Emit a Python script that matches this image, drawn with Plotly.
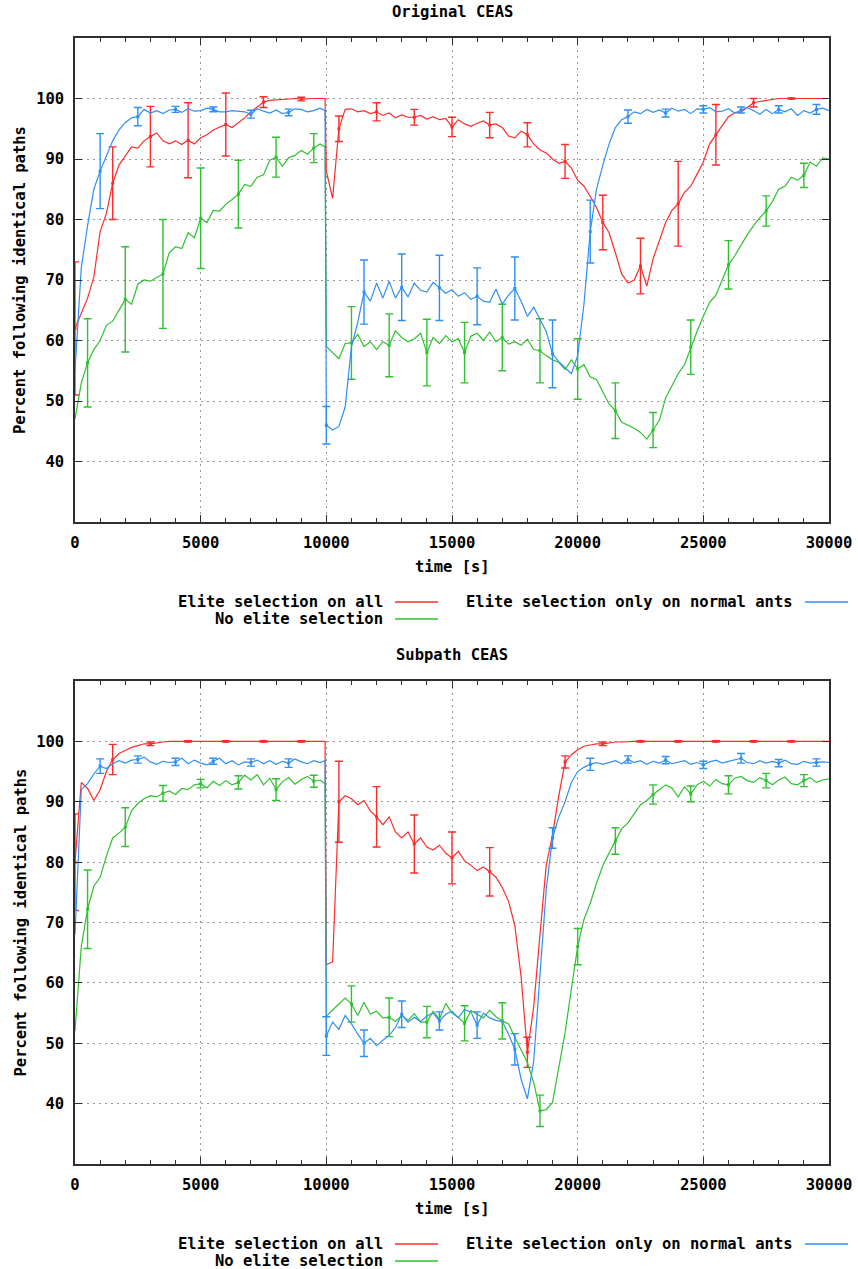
import plotly.graph_objects as go

W, H = 858, 1269

# Sample times [s]: 250 s steps, with the scenario change at 10000 s
T = list(range(0, 9751, 250)) + [9950] + list(range(10000, 30001, 250))

# ---------------- Original CEAS ----------------
orig_all = [
    62, 64.5, 67, 70.5,
    78, 81, 86, 89,
    90.5, 92, 91.8, 93,
    93.7, 94.3, 93, 92.5,
    93, 92.4, 93.1, 92.5,
    93.5, 94, 94.8, 95.3,
    95.7, 95.2, 96, 96.8,
    97.8, 98.6, 99.4, 99.7,
    99.8, 99.9, 99.9, 100,
    99.9, 100, 100, 100,
    100,
    88, 83.5, 95, 98.2,
    98.3, 97.8, 98, 97.5,
    97.8, 97.2, 97.6, 96.8,
    97.3, 96.9, 96.9, 97.2,
    96.6, 97, 96.5, 96.7,
    95.3, 96.5, 95.8, 95.4,
    95.9, 96.3, 95.6, 95.8,
    95.2, 93.8, 93.5, 94.6,
    94, 92.5, 91.5, 91,
    90, 89.3, 89.6, 88.5,
    86.5, 85.5, 83.8, 82,
    79.5, 77.8, 74.5, 71,
    69.5, 70, 72.3, 69,
    73.5, 76.5, 79.5, 81.5,
    82.6, 84.5, 85.5, 87.5,
    89.5, 92.5, 94, 95.5,
    97, 97.6, 97.8, 98.5,
    99.3, 99.5, 99.7, 99.9,
    100, 100, 100, 100,
    100, 100, 100, 100,
    100,
]
orig_none = [
    47, 53, 56.3, 58.5,
    60, 62.5, 63.2, 65,
    66.8, 66, 69.3, 70,
    69.8, 70.4, 71, 74.5,
    75.5, 75.2, 77.8, 77,
    80.2, 79.5, 81.5, 81.4,
    82.5, 83.3, 84.2, 85.8,
    85.5, 87, 87.4, 89.8,
    90.3, 88.8, 90.2, 90.6,
    91.4, 90.8, 91.8, 92.5,
    92,
    59, 58, 57, 59.5,
    59.6, 61, 59, 59.8,
    58.5, 59.8, 59.2, 61.6,
    60.5, 59.8, 60.3, 61.2,
    58, 60.5, 59.5, 60.8,
    59.8, 60.3, 58, 60.7,
    61.2, 60, 61.4, 59.8,
    60.5, 59.4, 59.8, 59.2,
    60.2, 58.5, 58.3, 57.5,
    56.8, 56.4, 55.2, 56.8,
    55.3, 56, 54, 53.5,
    51.5, 49.5, 48.4, 46.5,
    46, 45.5, 44.8, 43.7,
    45.2, 46.8, 50.5, 52.5,
    54.5, 56, 58.9, 61.5,
    64, 66.3, 67.5, 70,
    72.5, 74, 75.8, 77.5,
    79, 80.3, 81.4, 83,
    85, 85.5, 87, 86.5,
    87.3, 89.5, 88.8, 90.2,
    90,
]
orig_normal = [
    55, 72, 79, 85,
    88, 90.5, 93, 94.8,
    96, 96.8, 97, 98.2,
    97.6, 98, 97.5, 98.1,
    98.2, 97.7, 98.3, 97.9,
    98, 98.4, 98.2, 97.8,
    97.8, 98, 97.9, 97.8,
    97.4, 98.3, 97.9, 97.6,
    98.1, 97.5, 97.7, 98.3,
    98.2, 97.8, 98, 98.4,
    98,
    46, 45.2, 45.8, 49,
    59, 63, 68, 66.5,
    69.5, 67, 69.8, 67,
    68.8, 67.2, 69.5, 68.3,
    68, 69.6, 68.7, 67.8,
    68.4, 67.3, 67.9, 66.8,
    67.3, 66.5, 66.3, 68.5,
    66, 67.5, 68.6, 66.5,
    64, 65.5, 63.5, 61.5,
    57.8, 56.5, 55.5, 54.5,
    57.5, 66, 78, 85,
    89, 92.5, 95.2, 96.5,
    97, 97.8, 97.5, 98.2,
    97.7, 98.1, 97.6, 98.4,
    97.9, 98.2, 97.5, 98.3,
    98.2, 98.5, 97.8, 97.9,
    98.3, 97.6, 98.1, 98.5,
    98, 97.4, 98.2, 97.5,
    98.2, 97.8, 98.3, 97.2,
    98, 97.6, 98.2, 98.4,
    98,
]

# ---------------- Subpath CEAS ----------------
sub_all = [
    80, 93.2, 92.2, 90.2,
    92, 95, 97, 98,
    98.5, 99, 99.3, 99.6,
    99.6, 99.8, 99.9, 100,
    100, 100, 100, 100,
    100, 100, 100, 100,
    100, 100, 100, 100,
    100, 100, 100, 100,
    100, 100, 100, 100,
    100, 100, 100, 100,
    100,
    63, 63.5, 90, 91,
    90.5, 89.5, 90.2, 88.5,
    87.5, 86.2, 87.5, 85,
    84, 85, 83, 84,
    82.5, 82, 82.8, 81.5,
    80.7, 81.8, 80.2, 79.5,
    78.6, 79.2, 78.4, 77.5,
    75.8, 73.5, 69.5, 61,
    48.5, 56, 68, 79.5,
    84.5, 91, 96.6, 97.8,
    98.6, 99.2, 99.4, 99.6,
    99.6, 99.8, 99.9, 99.9,
    100, 100, 100, 100,
    100, 100, 100, 100,
    100, 100, 100, 100,
    100, 100, 100, 100,
    100, 100, 100, 100,
    100, 100, 100, 100,
    100, 100, 100, 100,
    100, 100, 100, 100,
    100,
]
sub_none = [
    52, 66, 72.2, 76,
    77.5, 81, 84, 84.8,
    85.8, 88.5, 89.7, 90.5,
    91, 90.8, 91.4, 91.8,
    91.2, 92.2, 92, 92.8,
    93, 92.3, 93.4, 92.7,
    93.5, 92.8, 93.2, 94.4,
    93.6, 94.5, 92.8, 93.9,
    92, 93.3, 94, 92.9,
    93.7, 94.2, 93.4, 93.6,
    93,
    54.5, 55.5, 56.5, 57.5,
    56.5, 54.6, 56.8, 54.8,
    55.3, 54.2, 54.3, 53.6,
    54.6, 53.8, 54.9, 53.5,
    53.5, 55.3, 54, 56.6,
    55, 54.3, 53.3, 55.4,
    54.8, 54.2, 55.5, 54.4,
    53.7, 53.2, 51, 49,
    46.8, 43.5, 38.8, 39,
    40.2, 46, 51.8, 59,
    66, 70.5, 73.2, 76.5,
    79.4, 81.5, 83.5, 85.5,
    86.5, 88, 89.5, 90.2,
    91.2, 92, 92.8, 92.3,
    90.8, 92.5, 91.3, 92.8,
    93.4, 92.6, 93.7, 93,
    92.8, 93.9, 94.2, 93.5,
    93.2, 94, 93.5, 92.8,
    93.6, 94.1, 93, 92.8,
    93.5, 94, 93.2, 93.6,
    93.8,
]
sub_normal = [
    68, 92, 93, 94.6,
    95.9, 95.5, 96.3, 96.8,
    96.4, 96.9, 97, 97.4,
    96.6, 96.2, 96.7, 96.5,
    96.6, 97.2, 96.3, 96.9,
    96.4, 96.1, 96.7, 97.2,
    96.3, 96.8, 96.1, 96.6,
    96.5, 96.9, 96.3, 96.8,
    96.2, 96.7, 96.4, 97.1,
    96.6, 96.3, 96.8, 96.5,
    96.8,
    51.2, 53.5, 52.3, 54.6,
    53.2, 51.5, 50, 50.8,
    49.6, 50.5, 51.3, 52.6,
    54.8, 53.5, 54.3, 53.6,
    54.5, 55, 53.7, 54.8,
    55.3, 54.2, 55.6, 55.2,
    53, 55, 54.2, 53.8,
    53.6, 51.5, 49, 44,
    40.8, 47, 61, 75.5,
    84, 87.5, 90, 93.2,
    95, 95.7, 96.2, 96.5,
    96.2, 96.5, 96.8, 96.3,
    97, 96.5, 96.8, 96.2,
    96.7, 96.4, 96.9, 96.3,
    96.6, 96.8, 96.2, 96.5,
    96.1, 96.6, 96.9, 96.4,
    96.7, 96.9, 97.2, 96.5,
    96.3, 96.8, 96.4, 96.7,
    96.4, 96.9, 96.3, 96.2,
    96.7, 96.4, 96.5, 96.6,
    96.5,
]

# Error bars (half width, in percent) sampled every 1500 s, staggered per series
bars_all_x = [0, 1500, 3000, 4500, 6000, 7500, 9000, 10500, 12000, 13500,
              15000, 16500, 18000, 19500, 21000, 22500, 24000, 25500, 27000, 28500]
bars_none_x = [500, 2000, 3500, 5000, 6500, 8000, 9500, 11000, 12500, 14000,
               15500, 17000, 18500, 20000, 21500, 23000, 24500, 26000, 27500, 29000]
bars_normal_x = [1000, 2500, 4000, 5500, 7000, 8500, 10000, 11500, 13000, 14500,
                 16000, 17500, 19000, 20500, 22000, 23500, 25000, 26500, 28000, 29500]

orig_all_err = [11, 6, 5, 6.2, 5.2, 0.9, 0.3, 2.1, 1.5, 1.3,
                1.6, 2.1, 2, 2.8, 4.5, 4.6, 7, 5, 0.7, 0.1]
orig_none_err = [7.3, 8.7, 9, 8.3, 5.6, 3.3, 2.4, 6, 5.2, 5.5,
                 5, 5.5, 5.3, 5, 4.6, 2.9, 4.5, 4, 2.5, 2]
orig_normal_err = [6.2, 1.5, 0.5, 0.4, 0.65, 0.55, 3.1, 5.3, 5.5, 5.4,
                   4.7, 5.2, 5.6, 5.2, 1.1, 0.65, 0.6, 0.5, 0.6, 0.8]

sub_all_err = [8, 2.5, 0.3, 0.1, 0.1, 0.1, 0.1, 6.7, 5, 4.8,
               4.3, 4, 2.5, 1, 0.3, 0.1, 0.1, 0.1, 0.1, 0.1]
sub_none_err = [6.5, 3.2, 1.3, 0.7, 1.1, 1.8, 1, 3, 3.2, 2.6,
                2.9, 3, 2.6, 3, 2.2, 1.6, 1.3, 1.5, 1.2, 1]
sub_normal_err = [1.2, 0.6, 0.6, 0.5, 0.6, 0.7, 3.2, 2.2, 2.2, 1.5,
                  2.2, 2.6, 1.7, 1, 0.6, 0.6, 0.6, 0.8, 0.6, 0.6]

NAMES = ["Elite selection on all", "No elite selection",
         "Elite selection only on normal ants"]
COLORS = ["#ff2b2b", "#2fc12f", "#2f8ff5"]
TITLES = ["Original CEAS", "Subpath CEAS"]
Y_TICKS = [40, 50, 60, 70, 80, 90, 100]
X_TICKS = [0, 5000, 10000, 15000, 20000, 25000, 30000]

FONT = "DejaVu Sans Mono"
FS = 15.5


def fx(p):
    return p / W


def fy(p):
    return 1 - p / H


# pixel frames of the two plot boxes: (left, right, top, bottom)
boxes = [(75, 829, 38, 522), (75, 829, 681, 1164)]

panels = [
    ([orig_all, orig_none, orig_normal], [orig_all_err, orig_none_err, orig_normal_err]),
    ([sub_all, sub_none, sub_normal], [sub_all_err, sub_none_err, sub_normal_err]),
]
bar_xs = [bars_all_x, bars_none_x, bars_normal_x]

fig = go.Figure()

for k, (series, errs) in enumerate(panels):
    xa = "x" if k == 0 else "x2"
    ya = "y" if k == 0 else "y2"
    for s, (ys, err, bx) in enumerate(zip(series, errs, bar_xs)):
        lookup = dict(zip(T, ys))
        fig.add_trace(go.Scatter(
            x=T, y=ys, mode="lines", xaxis=xa, yaxis=ya,
            line=dict(color=COLORS[s], width=1.2), showlegend=False,
            hoverinfo="skip"))
        fig.add_trace(go.Scatter(
            x=bx, y=[lookup[v] for v in bx], mode="markers", xaxis=xa, yaxis=ya,
            marker=dict(color=COLORS[s], size=3, symbol="square"),
            error_y=dict(type="data", array=err, color=COLORS[s],
                         thickness=1.4, width=4),
            showlegend=False, hoverinfo="skip"))

axis_common = dict(
    showline=True, mirror="ticks", linecolor="#2e2e2e", linewidth=1.5,
    ticks="inside", tickcolor="#2e2e2e", tickwidth=1, ticklen=7,
    showgrid=True, gridcolor="#9a9a9a", gridwidth=1, griddash="2px,4px",
    zeroline=False, automargin=False,
    tickfont=dict(family=FONT, size=FS, color="#000000", weight="bold"),
)

layout = dict(
    width=W, height=H, margin=dict(l=0, r=0, t=0, b=0, autoexpand=False),
    paper_bgcolor="white", plot_bgcolor="white", showlegend=False,
)

for k, (l, r, t, b) in enumerate(boxes):
    xs = "xaxis" if k == 0 else "xaxis2"
    ys = "yaxis" if k == 0 else "yaxis2"
    layout[xs] = dict(
        axis_common, domain=[fx(l), fx(r)], range=[0, 30000],
        anchor="y" if k == 0 else "y2",
        tickvals=X_TICKS, ticktext=[str(v) for v in X_TICKS],
        ticklabelstandoff=6,
        minor=dict(dtick=1000, ticks="inside", ticklen=4, tickcolor="#2e2e2e",
                   showgrid=False),
    )
    layout[ys] = dict(
        axis_common, domain=[fy(b), fy(t)], range=[30, 110],
        anchor="x" if k == 0 else "x2",
        tickvals=Y_TICKS, ticktext=[str(v) for v in Y_TICKS],
        ticklabelstandoff=6,
    )

fig.update_layout(**layout)

annotations = []
shapes = []
for k, (l, r, t, b) in enumerate(boxes):
    cx = (l + r) / 2
    # panel title
    annotations.append(dict(
        x=fx(cx), y=fy(t - 26), xref="paper", yref="paper", text=TITLES[k],
        showarrow=False, xanchor="center", yanchor="middle",
        font=dict(family=FONT, size=FS, color="#000000", weight="bold")))
    # x axis title
    annotations.append(dict(
        x=fx(cx), y=fy(b + 45), xref="paper", yref="paper", text="time [s]",
        showarrow=False, xanchor="center", yanchor="middle",
        font=dict(family=FONT, size=FS, color="#000000", weight="bold")))
    # y axis title
    annotations.append(dict(
        x=fx(20), y=fy((t + b) / 2), xref="paper", yref="paper",
        text="Percent following identical paths", textangle=-90,
        showarrow=False, xanchor="center", yanchor="middle",
        font=dict(family=FONT, size=FS, color="#000000", weight="bold")))
    # key below the plot: right-aligned labels followed by line samples
    row1 = b + 80
    row2 = b + 97
    entries = [(385, row1, 0), (385, row2, 1), (795, row1, 2)]
    for tx, ty, s in entries:
        annotations.append(dict(
            x=fx(tx), y=fy(ty), xref="paper", yref="paper", text=NAMES[s],
            showarrow=False, xanchor="right", yanchor="middle",
            font=dict(family=FONT, size=FS, color="#000000", weight="bold")))
        shapes.append(dict(
            type="line", xref="paper", yref="paper",
            x0=fx(tx + 10), x1=fx(tx + 53), y0=fy(ty), y1=fy(ty),
            line=dict(color=COLORS[s], width=1.5)))

fig.update_layout(annotations=annotations, shapes=shapes)

fig.write_html("out.html")
